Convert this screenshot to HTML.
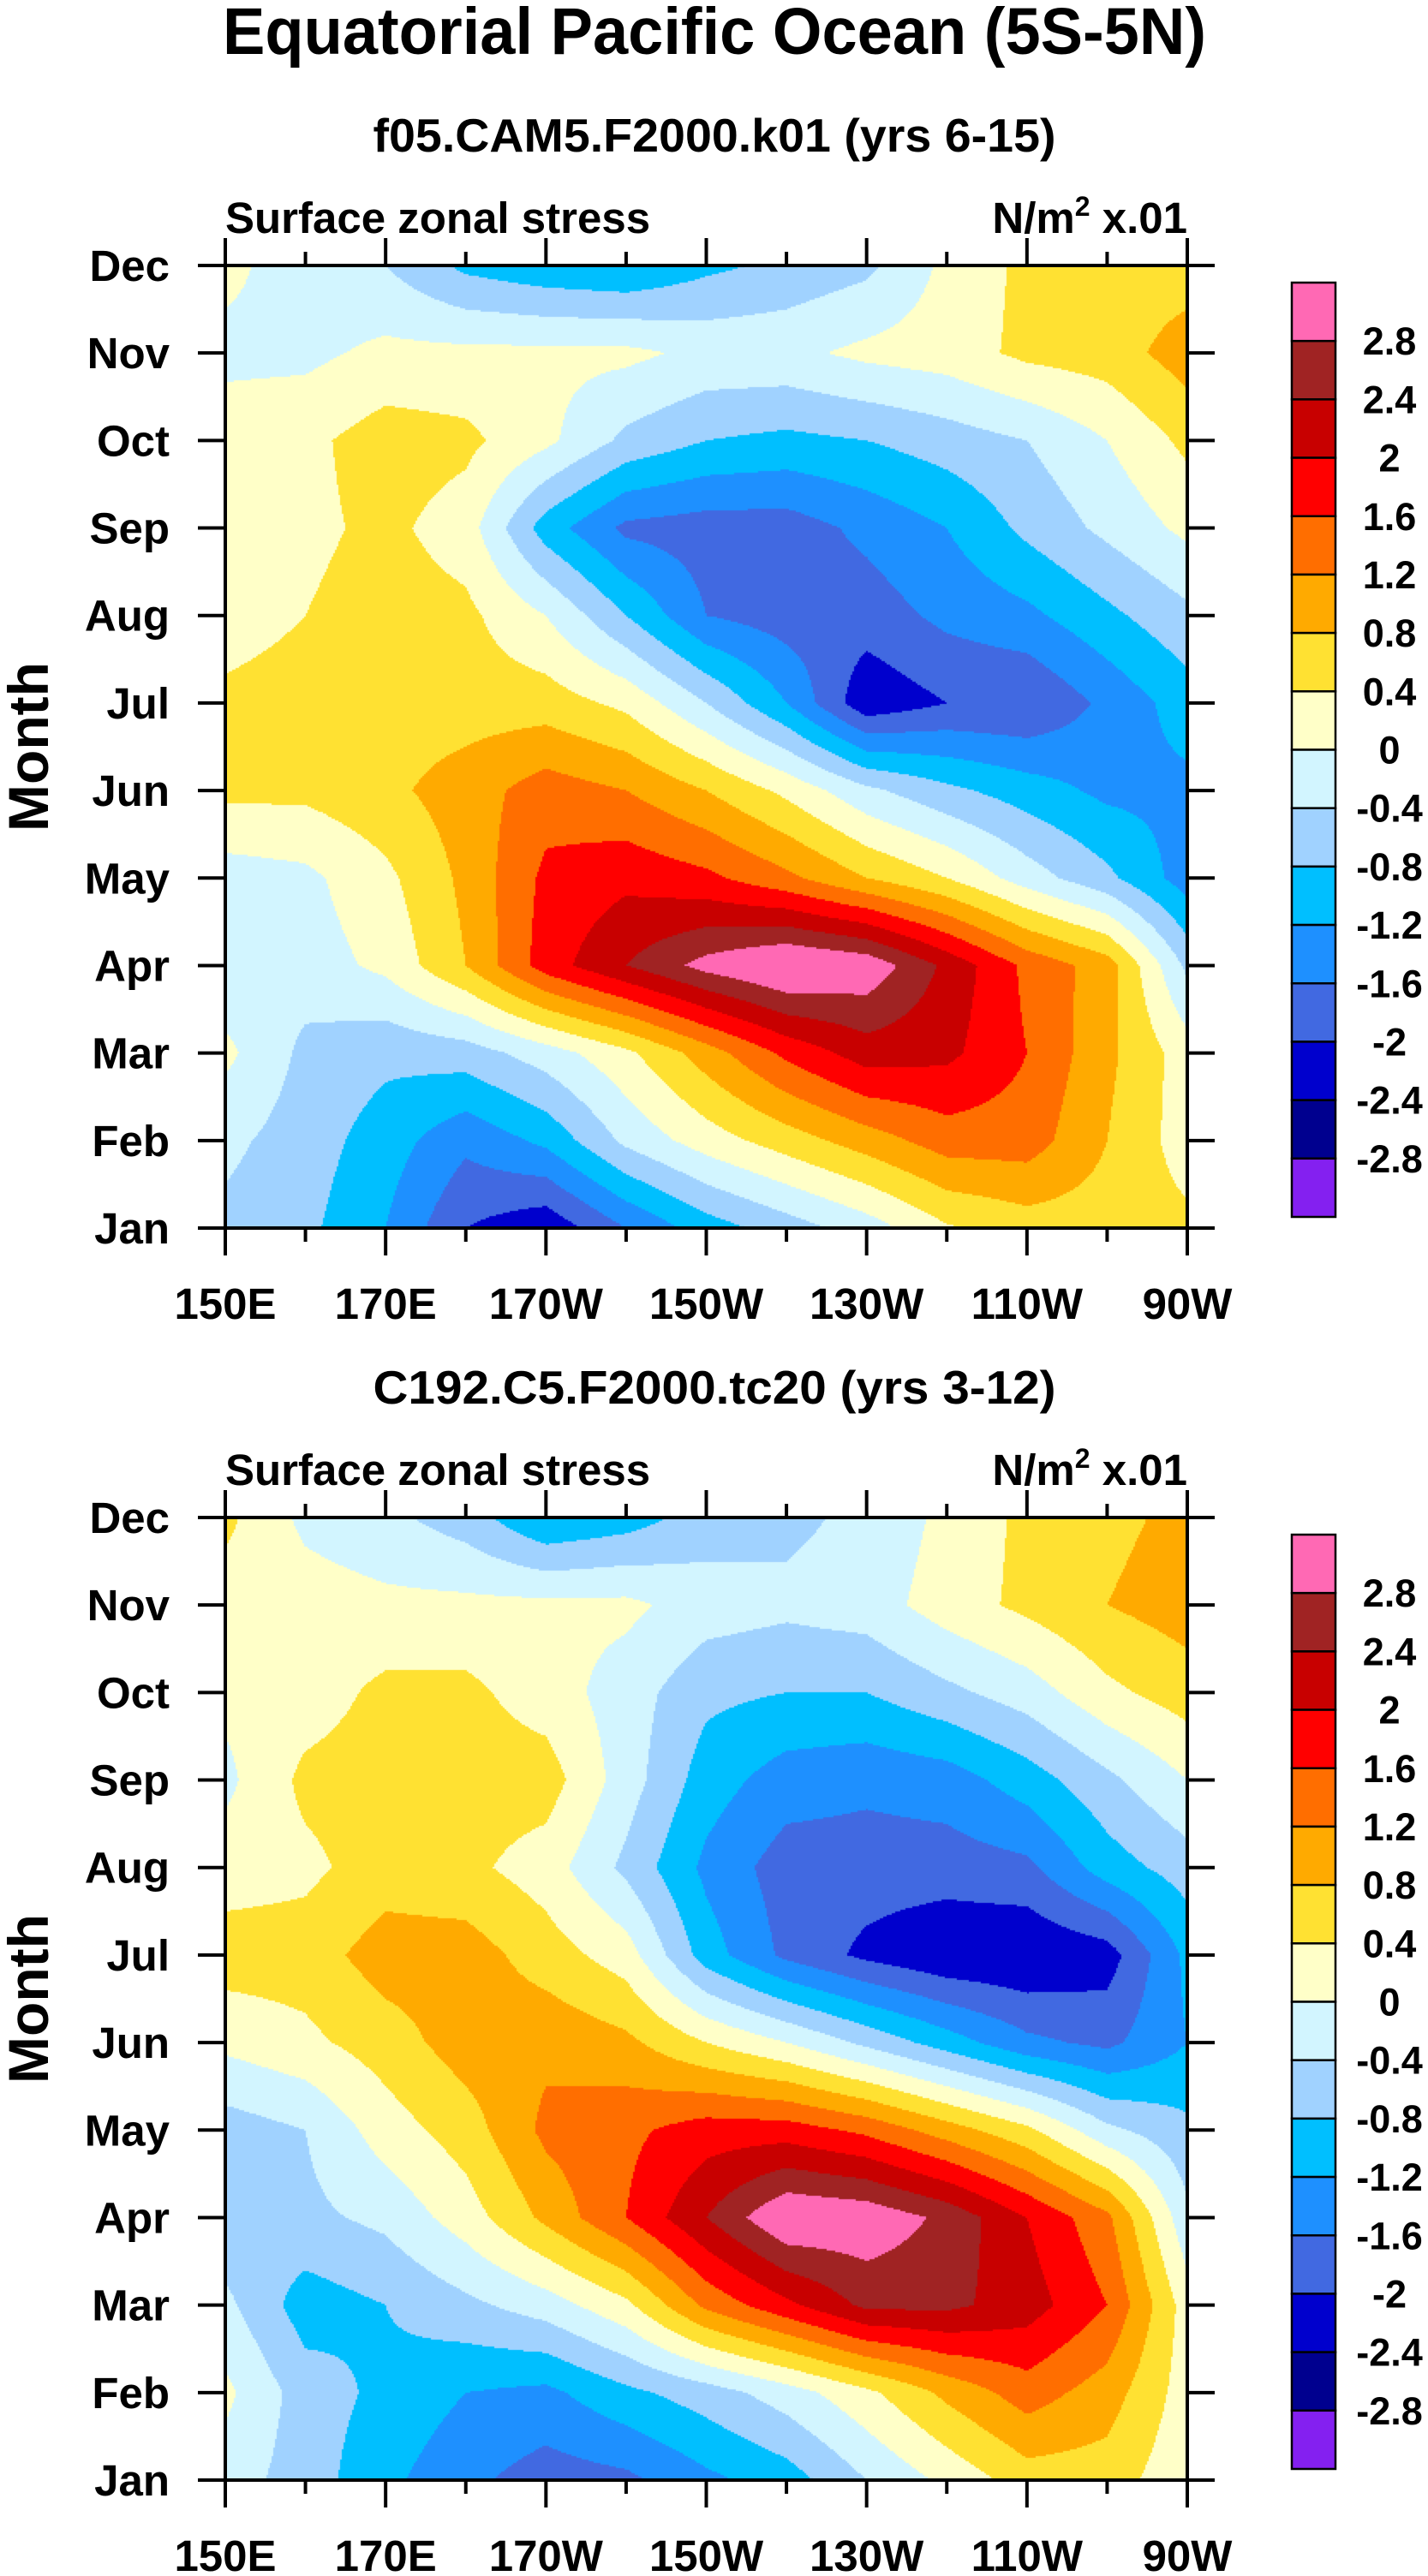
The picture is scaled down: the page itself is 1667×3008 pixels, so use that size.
<!DOCTYPE html>
<html><head><meta charset="utf-8"><style>
html,body{margin:0;padding:0;background:#fff;}
#wrap{position:relative;width:1667px;height:3008px;overflow:hidden;}
canvas{position:absolute;left:0;top:0;}
svg{position:absolute;left:0;top:0;}
text{font-family:"Liberation Sans",sans-serif;font-weight:bold;fill:#000;}
</style></head><body>
<div id="wrap">
<canvas id="cv" width="1667" height="3008"></canvas>
<svg id="sv" width="1667" height="3008" xmlns="http://www.w3.org/2000/svg">
<text x="834" y="63" font-size="77" text-anchor="middle" textLength="1148" lengthAdjust="spacingAndGlyphs">Equatorial Pacific Ocean (5S-5N)</text>
</svg>
</div>
<script>
const lons=[150,160,170,180,190,200,210,220,230,240,250,260,270];
const monthLabels=["Jan","Feb","Mar","Apr","May","Jun","Jul","Aug","Sep","Oct","Nov","Dec"];
const lonTicks=[150,170,190,210,230,250,270];
const lonTickLabels=["150E","170E","170W","150W","130W","110W","90W"];
const levels=[-2.8,-2.4,-2,-1.6,-1.2,-0.8,-0.4,0,0.4,0.8,1.2,1.6,2,2.4,2.8];
const levelLabels=["2.8","2.4","2","1.6","1.2","0.8","0.4","0","-0.4","-0.8","-1.2","-1.6","-2","-2.4","-2.8"];
const colors=["#8420f0","#00008f","#0000cd","#4169e1","#1e90ff","#00bfff","#a0d2ff","#d2f5ff","#ffffc8","#ffe132","#ffaa00","#ff6e00","#ff0000","#c80000","#a02323","#ff69b4"];
const titles1=["f05.CAM5.F2000.k01 (yrs 6-15)","C192.C5.F2000.tc20 (yrs 3-12)"];
// rows Jan..Dec, columns 150E..90W every 10 deg
const panel1Values=[
[-0.5,-0.7,-1.2,-2.0,-2.3,-1.6,-1.0,-0.6,-0.2,0.35,0.6,0.6,0.5],
[-0.3,-0.6,-1.0,-1.5,-1.1,-0.3,0.2,0.6,1.0,1.4,1.4,0.8,0.2],
[0.1,-0.5,-0.7,-0.6,-0.2,0.3,1.0,1.7,2.2,2.1,1.6,0.9,0.2],
[-0.3,-0.2,0.1,0.8,1.8,2.4,2.95,3.3,3.1,2.3,1.5,1.0,-0.5],
[-0.2,-0.1,0.3,0.9,1.7,1.9,1.7,1.3,0.8,0.4,-0.2,-0.7,-1.4],
[0.5,0.5,0.7,1.0,1.4,1.2,0.8,0.3,-0.3,-0.7,-1.0,-1.3,-1.3],
[0.5,0.6,0.6,0.6,0.6,0.3,-0.4,-1.2,-2.3,-2.0,-2.0,-1.5,-1.0],
[0.2,0.4,0.6,0.5,0.0,-0.8,-1.6,-1.8,-1.8,-1.5,-1.3,-0.9,-0.5],
[0.1,0.3,0.5,0.2,-1.0,-1.7,-1.8,-1.8,-1.5,-1.2,-0.7,-0.3,0.1],
[0.2,0.3,0.6,0.5,0.1,-0.5,-0.8,-0.9,-0.8,-0.6,-0.4,0.0,0.5],
[-0.1,-0.1,0.1,0.1,0.1,0.1,-0.1,-0.1,0.1,0.2,0.5,0.6,1.0],
[0.1,-0.2,-0.4,-0.9,-1.1,-1.2,-0.9,-0.7,-0.5,0.1,0.5,0.6,0.6]];
const panel2Values=[
[-0.2,-0.6,-1.1,-1.5,-1.8,-1.7,-1.3,-1.0,-0.4,0.1,0.6,0.6,0.1],
[0.1,-0.6,-0.9,-1.2,-1.3,-0.9,-0.6,-0.2,0.3,0.9,1.4,1.0,0.2],
[-0.3,-1.0,-0.8,-0.5,-0.2,0.3,1.3,1.9,2.5,2.5,2.2,1.6,0.2],
[-0.7,-0.5,-0.3,0.2,0.9,1.6,2.4,3.2,3.1,2.7,2.0,1.3,-0.3],
[-0.6,-0.4,0.2,0.6,1.3,1.5,1.8,1.8,1.5,1.0,0.5,-0.3,-0.7],
[0.1,0.3,0.6,1.0,1.1,0.9,0.4,0.0,-0.5,-1.0,-1.5,-1.7,-1.2],
[0.6,0.6,1.0,1.0,0.6,0.2,-1.0,-1.7,-2.1,-2.35,-2.38,-2.2,-1.1],
[0.2,0.3,0.6,0.5,0.2,-0.5,-1.3,-1.8,-1.8,-1.8,-1.7,-1.0,-0.6],
[-0.1,0.5,0.6,0.6,0.6,-0.2,-1.0,-1.4,-1.5,-1.4,-1.0,-0.5,0.0],
[0.1,0.2,0.5,0.5,0.2,-0.2,-0.7,-0.8,-0.8,-0.5,-0.2,0.3,0.6],
[0.2,0.2,0.1,0.1,0.1,0.1,-0.2,-0.3,-0.2,0.2,0.5,0.8,1.0],
[0.5,-0.1,-0.3,-0.6,-1.2,-1.0,-0.6,-0.5,-0.3,0.1,0.5,0.7,0.9]];

const NS="http://www.w3.org/2000/svg";
const sv=document.getElementById('sv');
const ctx=document.getElementById('cv').getContext('2d');
const PX0=263,PX1=1386,PH=1124;
function mk(tag,attrs,parent){const e=document.createElementNS(NS,tag);for(const k in attrs)e.setAttribute(k,attrs[k]);(parent||sv).appendChild(e);return e;}
function colorFor(v){let i=0;while(i<levels.length&&v>=levels[i])i++;return colors[i];}

function drawPanel(p,vals){
  const off=p*1462, top=310+off, bot=top+PH;
  const xS=lon=>PX0+(lon-lons[0])/(lons[lons.length-1]-lons[0])*(PX1-PX0);
  const yS=m=>bot-m/(monthLabels.length-1)*PH;
  const step=2;
  for(let py=top;py<bot;py+=step){
    let m=(bot-(py+step/2))/PH*(monthLabels.length-1);
    m=Math.max(0,Math.min(monthLabels.length-1,m));
    const m0=Math.min(Math.floor(m),monthLabels.length-2),fm=m-m0;
    for(let px=PX0;px<PX1;px+=step){
      let lon=lons[0]+(px+step/2-PX0)/(PX1-PX0)*(lons[lons.length-1]-lons[0]);
      let c=(lon-lons[0])/10;c=Math.max(0,Math.min(lons.length-1,c));
      const c0=Math.min(Math.floor(c),lons.length-2),fc=c-c0;
      const v=(vals[m0][c0]*(1-fc)+vals[m0][c0+1]*fc)*(1-fm)+(vals[m0+1][c0]*(1-fc)+vals[m0+1][c0+1]*fc)*fm;
      ctx.fillStyle=colorFor(v);
      ctx.fillRect(px,py,step,step);
    }
  }
  const g=mk('g',{});
  
  
  const st=mk('text',{x:834,y:177+off,'font-size':55,'text-anchor':'middle',textLength:797,lengthAdjust:'spacingAndGlyphs'},g);
  st.textContent=titles1[p];
  
  
  const lt=mk('text',{x:263,y:272+off,'font-size':51},g);
  lt.textContent='Surface zonal stress';
  
  
  const rt=mk('text',{x:1386,y:272+off,'font-size':51,'text-anchor':'end'},g);
  rt.innerHTML='N/m<tspan dy="-20" font-size="32">2</tspan><tspan dy="20"> x.01</tspan>';
  
  
  const yt=mk('text',{x:0,y:0,'font-size':66,'text-anchor':'middle',transform:'translate(56,'+(top+PH/2)+') rotate(-90)'},g);
  yt.textContent='Month';
  
  
  monthLabels.forEach((ml,i)=>{
    const y=yS(i);
    const t1=mk('line',{x1:231,x2:PX0,y1:y,y2:y,stroke:'#000','stroke-width':4},g);
    
    
    const t2=mk('line',{x1:PX1,x2:1418,y1:y,y2:y,stroke:'#000','stroke-width':4},g);
    
    
    const tl=mk('text',{x:198,y:y+18,'font-size':51,'text-anchor':'end'},g);
    tl.textContent=ml;
    
    
  });
  for(let lon=lons[0];lon<=lons[lons.length-1];lon+=10){
    const x=xS(lon),major=(lon-150)%20===0,len=major?32:16;
    const a=mk('line',{x1:x,x2:x,y1:top,y2:top-len,stroke:'#000','stroke-width':4},g);
    
    
    const b=mk('line',{x1:x,x2:x,y1:bot,y2:bot+len,stroke:'#000','stroke-width':4},g);
    
    
  }
  lonTicks.forEach((lon,i)=>{
    const t=mk('text',{x:xS(lon),y:bot+106,'font-size':51,'text-anchor':'middle'},g);
    t.textContent=lonTickLabels[i];
    
    
  });
  const fr=mk('rect',{x:PX0,y:top,width:PX1-PX0,height:PH,fill:'none',stroke:'#000','stroke-width':4},g);
  
  
  const cbTop=330+off,cbH=1091,bh=cbH/colors.length;
  const cb=mk('g',{},g);
  
  
  for(let i=0;i<colors.length;i++){
    const r=mk('rect',{x:1508,y:cbTop+i*bh,width:51,height:bh,fill:colors[colors.length-1-i],stroke:'#000','stroke-width':2.5},cb);
    
    
  }
  levelLabels.forEach((lab,i)=>{
    const t=mk('text',{x:1622,y:cbTop+(i+1)*bh+16,'font-size':45,'text-anchor':'middle'},cb);
    t.textContent=lab;
    
    
  });
}
drawPanel(0,panel1Values);
drawPanel(1,panel2Values);
</script>
</body></html>
